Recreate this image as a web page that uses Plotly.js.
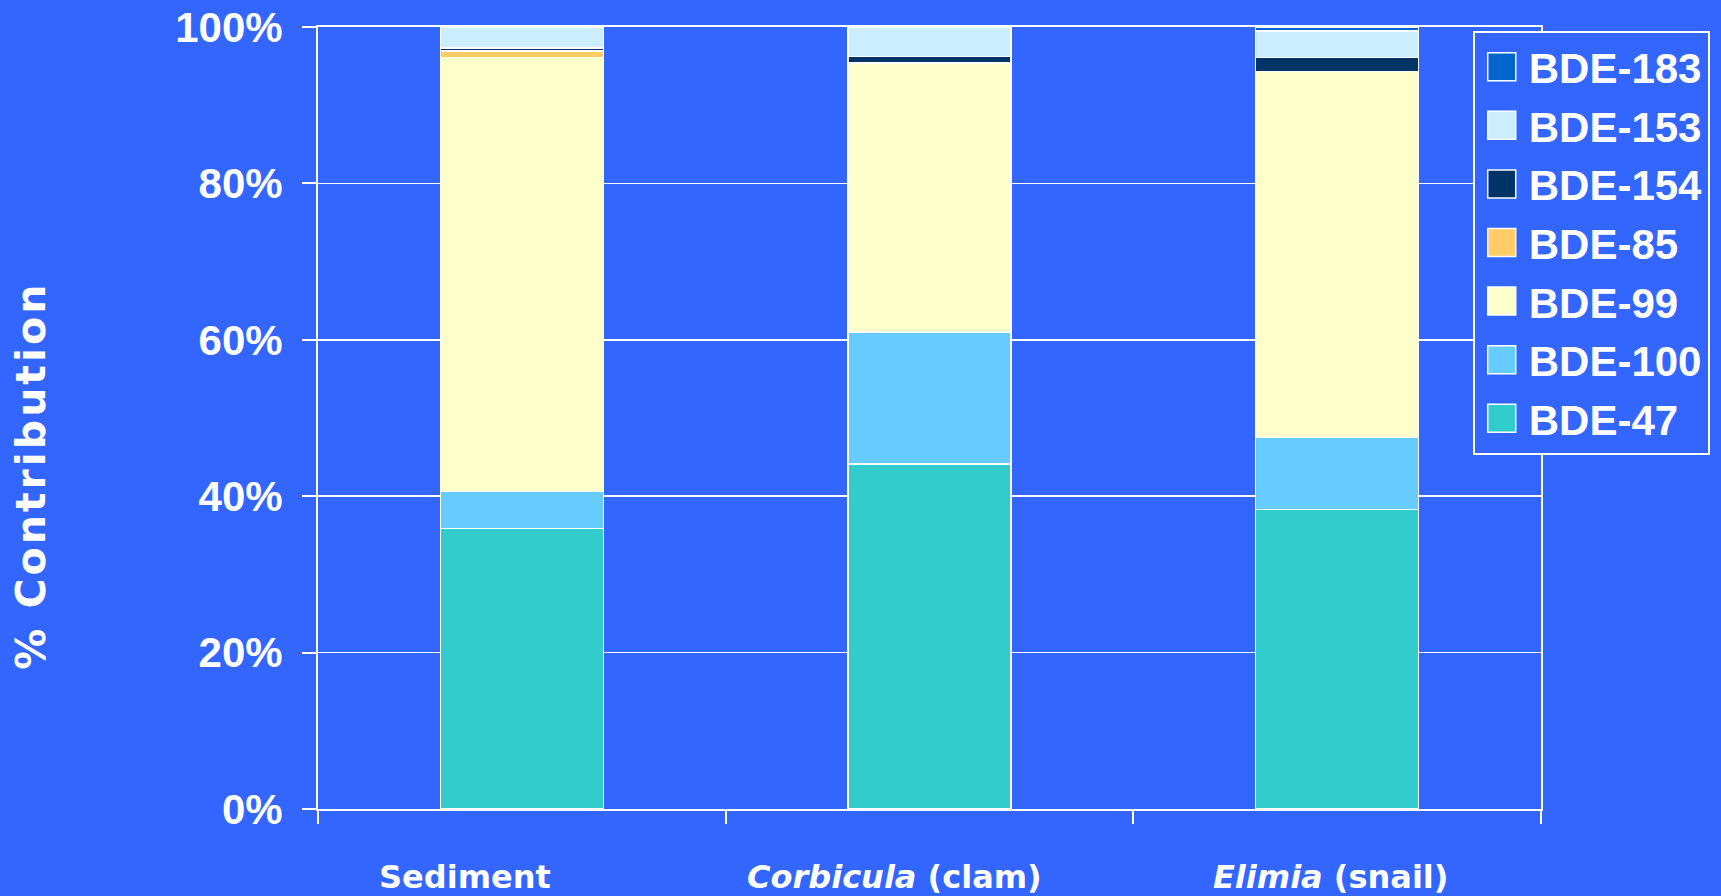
<!DOCTYPE html>
<html>
<head>
<meta charset="utf-8">
<script src="https://cdn.plot.ly/plotly-3.0.1.min.js"></script>
<style>
  html, body { margin: 0; padding: 0; background: #3366FF; }
  #chart { width: 1721px; height: 896px; }
</style>
</head>
<body>
<div id="chart"></div>
<script>
// PBDE congener profiles (% of total) in sediment, clams and snails
const categories = ['Sediment', 'Corbicula (clam)', 'Elimia (snail)'];
const categoryLabels = ['Sediment', '<i>Corbicula</i> (clam)', '<i>Elimia</i> (snail)'];

const bde47  = [35.9, 44.1, 38.3];
const bde100 = [4.7, 16.9, 9.2];
const bde99  = [55.5, 34.4, 46.8];
const bde85  = [0.8, 0.0, 0.0];
const bde154 = [0.4, 0.8, 1.8];
const bde153 = [2.7, 3.8, 3.4];
const bde183 = [0.0, 0.0, 0.5];

const seriesNames = ['BDE-47', 'BDE-100', 'BDE-99', 'BDE-85', 'BDE-154', 'BDE-153', 'BDE-183'];
const seriesValues = [bde47, bde100, bde99, bde85, bde154, bde153, bde183];
const seriesColors = ['#33CCCC', '#66CCFF', '#FFFFCC', '#FFCC66', '#003366', '#CCECFF', '#0066CC'];

const yTicks = [0, 20, 40, 60, 80, 100];

// stacked bottom-to-top; legend lists the top segment first
const traces = seriesNames.map((name, i) => ({
  type: 'bar',
  name: name,
  legendgroup: name,
  legendrank: seriesNames.length - i,
  x: categories,
  y: seriesValues[i],
  marker: { color: seriesColors[i], line: { color: '#FFFFFF', width: 1.5 } },
  hoverinfo: 'x+y+name'
}));

const white = '#FFFFFF';
const labelShift = [-57, -35, -7];

const annotations = categories.map((c, i) => ({
  xref: 'x', yref: 'paper',
  x: c, y: 0,
  xanchor: 'center', yanchor: 'middle',
  xshift: labelShift[i], yshift: -68,
  text: categoryLabels[i],
  showarrow: false,
  font: { family: 'DejaVu Sans', size: 32, color: white, weight: 'bold' }
}));

annotations.push({
  xref: 'paper', yref: 'paper',
  x: 0, y: 0.426,
  xshift: -287,
  xanchor: 'center', yanchor: 'middle',
  textangle: -90,
  text: '% Contribution',
  showarrow: false,
  font: { family: 'DejaVu Sans', size: 41, color: white, weight: 'bold' }
});

const layout = {
  width: 1721,
  height: 896,
  paper_bgcolor: '#3366FF',
  plot_bgcolor: '#3366FF',
  margin: { l: 318, r: 179, t: 27, b: 87, pad: 0 },
  barmode: 'stack',
  bargap: 0.6,
  showlegend: true,
  legend: {
    x: 0.9434, y: 0.995,
    xanchor: 'left', yanchor: 'top',
    bgcolor: '#3366FF',
    bordercolor: white,
    borderwidth: 2,
    traceorder: 'grouped',
    tracegroupgap: 1,
    itemwidth: 44,
    font: { family: 'Liberation Sans, Arial, sans-serif', size: 42, color: white, weight: 'bold' }
  },
  xaxis: {
    type: 'category',
    showgrid: false,
    showline: true,
    linecolor: white,
    linewidth: 2,
    mirror: true,
    ticks: 'outside',
    tickson: 'boundaries',
    ticklen: 13,
    tickwidth: 2,
    tickcolor: white,
    showticklabels: false,
    fixedrange: true
  },
  yaxis: {
    range: [0, 100],
    tickvals: yTicks,
    ticktext: yTicks.map(v => v + '%'),
    showgrid: true,
    gridcolor: white,
    gridwidth: 1.5,
    zeroline: false,
    showline: true,
    linecolor: white,
    linewidth: 2,
    mirror: true,
    ticks: 'outside',
    ticklen: 14,
    tickwidth: 2,
    tickcolor: white,
    ticklabelstandoff: 11,
    tickfont: { family: 'Liberation Sans, Arial, sans-serif', size: 42, color: white, weight: 'bold' },
    fixedrange: true
  },
  annotations: annotations
};

Plotly.newPlot('chart', traces, layout, { displayModeBar: false, staticPlot: true }).then(() => {
  // Larger square swatches in the legend
  document.querySelectorAll('.legend .legendpoints path').forEach(p => {
    p.setAttribute('d', 'M14,14H-14V-14H14Z');
  });
  // Wider tracking on the vertical axis title
  document.querySelectorAll('.annotation-text').forEach(t => {
    if (t.textContent === '% Contribution') t.style.letterSpacing = '3px';
  });
});
</script>
</body>
</html>
